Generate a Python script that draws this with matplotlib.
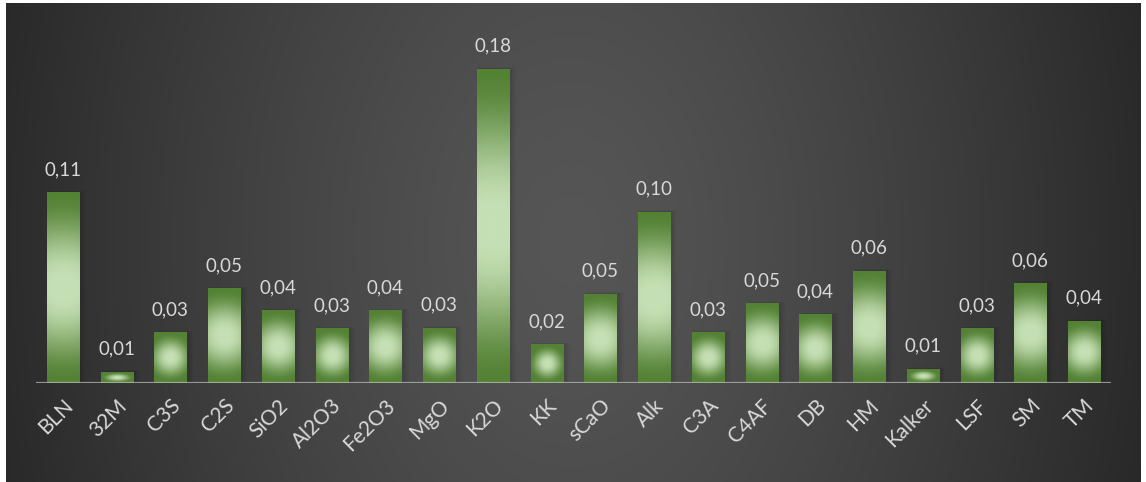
import numpy as np
import matplotlib.pyplot as plt

plt.rcParams['font.family'] = ['Lato', 'DejaVu Sans']

categories = ['BLN', '32M', 'C3S', 'C2S', 'SiO2', 'Al2O3', 'Fe2O3', 'MgO', 'K2O', 'KK',
              'sCaO', 'Alk', 'C3A', 'C4AF', 'DB', 'HM', 'Kalker', 'LSF', 'SM', 'TM']
values = [0.109, 0.0063, 0.0287, 0.0539, 0.0413, 0.031, 0.0413, 0.0315, 0.18, 0.0218,
          0.051, 0.098, 0.029, 0.0453, 0.039, 0.064, 0.008, 0.031, 0.057, 0.0355]

W, H, DPI = 1146, 482, 100
fig = plt.figure(figsize=(W / DPI, H / DPI), dpi=DPI, facecolor='white')

# dark panel with radial gradient
bg = fig.add_axes([6 / W, 0, (1141 - 6) / W, (482 - 3) / H], zorder=-5)
px, py = np.meshgrid(np.arange(6, 1141), np.arange(3, 482))
t = np.sqrt(((px - 570) / 620.0) ** 2 + ((py - 240) / 900.0) ** 2)
t = np.clip(t, 0, 1) ** 1.3
g = (0x56 - (0x56 - 0x26) * t) / 255.0
bg.imshow(np.dstack([g, g, g]), aspect='auto', interpolation='bilinear')
bg.axis('off')

ax_l, ax_r = 36 / W, 1111 / W
ax_b, ax_t = 1 - 383 / H, 1 - 30 / H
ax = fig.add_axes([ax_l, ax_b, ax_r - ax_l, ax_t - ax_b])
ax.set_facecolor('none')
ymax = 0.18 / ((383 - 69) / (383 - 30))

light = np.array([197, 224, 180]) / 255.0
dark = np.array([84, 130, 53]) / 255.0
bw = 0.6
n = len(categories)
ax_h_px = (ax_t - ax_b) * H
ax_w_px = (ax_r - ax_l) * W
hw_px = bw / n * ax_w_px / 2

for i, v in enumerate(values):
    hh_px = v / ymax * ax_h_px / 2
    a = min(1.0, hw_px / hh_px)
    ny = max(int(hh_px * 2), 4)
    yy, xx = np.meshgrid(np.linspace(-1, 1, ny), np.linspace(-1, 1, 40), indexing='ij')
    tt = np.sqrt(yy ** 2 + (xx * a) ** 2)
    s = np.clip((tt - 0.1) / 0.9, 0, 1)
    f = s * s * (3 - 2 * s)  # smoothstep
    img = light[None, None, :] * (1 - f[..., None]) + dark[None, None, :] * f[..., None]
    # soft shadow, mostly to the right
    for k, al in [(7, 0.03), (5, 0.04), (3, 0.05)]:
        dx = k / ax_w_px * n
        dy = k / ax_h_px * ymax
        ax.add_patch(plt.Rectangle((i - bw / 2 + dx * 0.2, 0), bw + dx * 0.8, v + dy * 0.3,
                                   color='black', alpha=al, lw=0, zorder=1))
    ax.imshow(img, extent=[i - bw / 2, i + bw / 2, 0, v], aspect='auto',
              interpolation='bilinear', zorder=2, origin='lower')
    ax.annotate(f'{v:.2f}'.replace('.', ','), (i, v), xytext=(0, 23),
                textcoords='offset pixels', ha='center', va='center',
                color='#d9d9d9', fontsize=13.5)

ax.axhline(0, color='#bfbfbf', lw=1.6, alpha=0.7, zorder=3)
ax.set_aspect('auto')
ax.set_xlim(-0.5, n - 0.5)
ax.set_ylim(0, ymax)
ax.set_xticks(range(n))
ax.set_xticklabels(categories, rotation=45, ha='right', va='top',
                   rotation_mode='anchor', color='#d9d9d9', fontsize=15)
ax.tick_params(axis='x', length=0, pad=9)
ax.set_yticks([])
for s in ax.spines.values():
    s.set_visible(False)

fig.savefig('out.png', dpi=DPI)
